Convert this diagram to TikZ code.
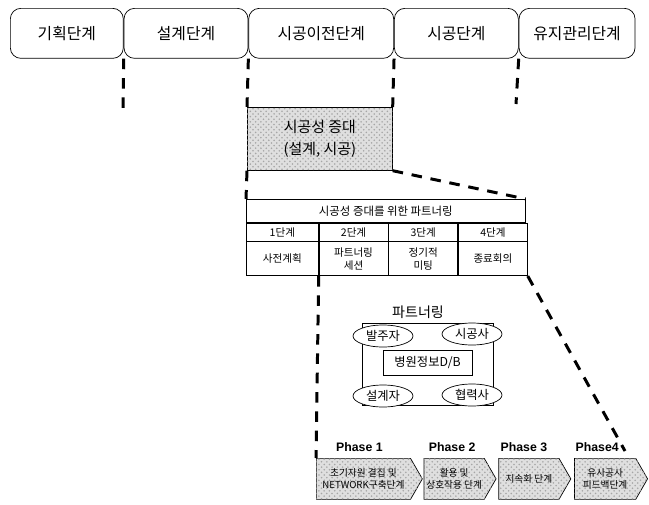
\documentclass[tikz,border=0pt]{standalone}
\usepackage{fontspec}
\setmainfont{Noto Sans CJK KR}
\newfontfamily\phasefont{Liberation Sans}
\usetikzlibrary{shapes.geometric, shapes.symbols, arrows, patterns}
\usetikzlibrary{positioning}
\tikzstyle{stage} = [rectangle, rounded corners=6pt, minimum height=1cm, inner sep=0pt, text centered, draw=black, font=\fontsize{9}{10}\selectfont]
\tikzstyle{focus} = [rectangle, minimum width=2.9cm, minimum height=1.26cm, align=center, draw=black, fill=gray!25, postaction={pattern=crosshatch dots, pattern color=gray!70}, font=\fontsize{8.5}{13}\selectfont]
\tikzstyle{cell} = [rectangle, inner sep=0pt, align=center, draw=black, font=\fontsize{6}{7.5}\selectfont]
\tikzstyle{party} = [ellipse, minimum width=1.2cm, minimum height=0.44cm, inner sep=0pt, draw=black, fill=white, font=\fontsize{7}{8}\selectfont]
\tikzstyle{phase} = [signal, signal to=east, signal pointer angle=120, minimum height=0.82cm, inner sep=0pt, align=center, draw=black, fill=gray!25, postaction={pattern=crosshatch dots, pattern color=gray!70}, font=\fontsize{5.5}{7}\selectfont]
\tikzstyle{phaselabel} = [inner sep=0pt, font=\phasefont\bfseries\fontsize{7}{8}\selectfont]
\tikzstyle{dashline} = [line width=1.7pt, dash pattern=on 6pt off 5pt]

\begin{document}
\begin{tikzpicture}[x=0.02cm, y=-0.02cm, node distance=0cm]
\useasboundingbox (0,0) rectangle (649,504);

% ===== PROJECT STAGES (top row) =====

% Planning
\node (plan) [stage, minimum width=2.26cm, anchor=north west] at (10,8) {기획단계};

% Design
\node (design) [stage, minimum width=2.48cm, right=of plan] {설계단계};

% Pre-construction
\node (precon) [stage, minimum width=2.9cm, right=of design] {시공이전단계};

% Construction
\node (constr) [stage, minimum width=2.48cm, right=of precon] {시공단계};

% Maintenance
\node (maint) [stage, minimum width=2.32cm, right=of constr] {유지관리단계};

% ===== CONSTRUCTABILITY (middle) =====

% Grey box
\node (boost) [focus, anchor=north west] at (247,107) {시공성 증대\\(설계, 시공)};

% Table title
\node (ttl) [cell, minimum width=5.58cm, minimum height=0.46cm, anchor=north west, font=\fontsize{6.5}{8}\selectfont] at (246,199) {시공성 증대를 위한 파트너링};

% Steps
\node (s1) [cell, minimum width=1.44cm, minimum height=0.36cm, anchor=north west] at (ttl.south west) {1단계};
\node (s2) [cell, minimum width=1.38cm, minimum height=0.36cm, right=of s1] {2단계};
\node (s3) [cell, minimum width=1.38cm, minimum height=0.36cm, right=of s2] {3단계};
\node (s4) [cell, minimum width=1.38cm, minimum height=0.36cm, right=of s3] {4단계};

% Step contents
\node (c1) [cell, minimum width=1.44cm, minimum height=0.68cm, below=of s1] {사전계획};
\node (c2) [cell, minimum width=1.38cm, minimum height=0.68cm, below=of s2] {파트너링\\세션};
\node (c3) [cell, minimum width=1.38cm, minimum height=0.68cm, below=of s3] {정기적\\미팅};
\node (c4) [cell, minimum width=1.38cm, minimum height=0.68cm, below=of s4] {종료회의};

% ===== PARTNERING (lower) =====

% Title
\node (pttl) [font=\fontsize{8}{9}\selectfont, inner sep=0pt] at (418,312) {파트너링};

% Frame and database
\node (pbox) [rectangle, draw=black, minimum width=2.62cm, minimum height=1.64cm] at (427.5,364) {};
\node (db) [rectangle, draw=black, minimum width=1.78cm, minimum height=0.5cm, inner sep=0pt, font=\fontsize{7}{8}\selectfont] at (427.5,362.5) {병원정보D/B};

% Parties
\node (owner) [party] at (383,336) {발주자};
\node (builder) [party] at (472,334) {시공사};
\node (designer) [party] at (383,396) {설계자};
\node (partner) [party] at (472,395) {협력사};

% ===== PHASES (bottom) =====
\node (p1) [phase, minimum width=2.12cm, anchor=north west] at (316,458) {초기자원 결집 및\\NETWORK구축단계};
\node (p2) [phase, minimum width=1.44cm, right=0.02cm of p1] {활용 및\\상호작용 단계};
\node (p3) [phase, minimum width=1.44cm, right=0.04cm of p2] {지속화 단계};
\node (p4) [phase, minimum width=1.46cm, right=0.06cm of p3] {유사공사\\피드백단계};

% Phase labels
\node (p1lbl) [phaselabel, above=0.12cm of p1, xshift=-0.08cm] {Phase 1};
\node (p2lbl) [phaselabel, above=0.12cm of p2, xshift=-0.04cm] {Phase 2};
\node (p3lbl) [phaselabel, above=0.12cm of p3, xshift=-0.1cm] {Phase 3};
\node (p4lbl) [phaselabel, above=0.12cm of p4, xshift=-0.16cm] {Phase4};

% Dashed guides
\coordinate (planend) at (123,112);
\coordinate (constrend) at (516,104);
\coordinate (p4end) at (625,451);
\draw [dashline] (plan.south east) -- (planend);
\draw [dashline] (design.south east) -- (boost.north west);
\draw [dashline] (precon.south east) -- (boost.north east);
\draw [dashline] (constr.south east) -- (constrend);
\draw [dashline] (boost.south west) -- (ttl.north west);
\draw [dashline] (boost.south east) -- (ttl.north east);
\draw [dashline] (c1.south east) -- (p1.north west);
\draw [dashline] (c4.south east) -- (p4end);

\end{tikzpicture}
\end{document}
